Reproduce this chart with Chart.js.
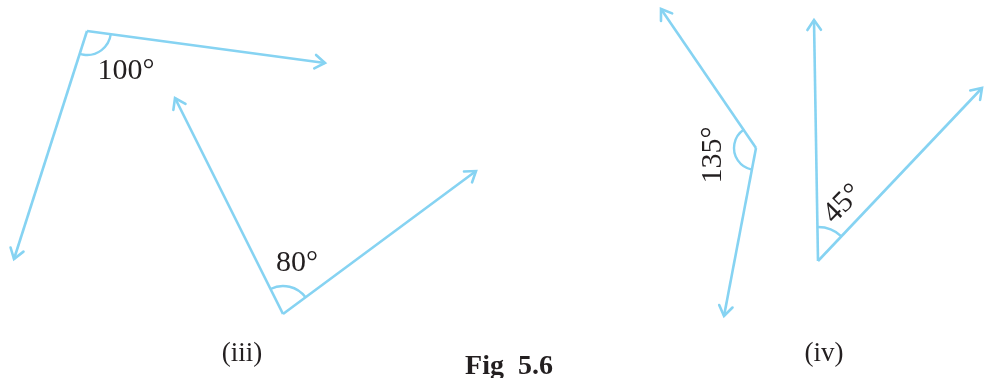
<!DOCTYPE html>
<html>
<head>
<meta charset="utf-8">
<script src="https://cdn.jsdelivr.net/npm/chart.js@4"></script>
<style>
  html, body { margin: 0; padding: 0; background: #fff; }
  canvas { display: block; }
</style>
</head>
<body>
<canvas id="fig" width="984" height="378"></canvas>
<script>
// angle vertices and ray end points (figure units, y grows downward)
var vertices = [[87, 31], [283, 314], [756, 148], [818, 261]];
var rayTipsA = [[325, 63], [175, 98], [661, 9], [814, 20]];
var rayTipsB = [[14, 259], [476, 171], [724, 316], [982, 88]];
var arcRadius = [24, 28, 22, 34];
var angleLabels = ['100°', '80°', '135°', '45°'];
var labelPos = [[126, 71], [297, 263], [713, 155], [843, 204]];
var labelRotation = [0, 0, -90, -45];
var partLabels = ['(iii)', '(iv)'];
var partPos = [[242, 354], [824, 354]];
var caption = 'Fig  5.6';

var blue = '#86d3f2';

var datasets = [];
vertices.forEach(function (v, i) {
    [rayTipsA[i], rayTipsB[i]].forEach(function (t) {
        datasets.push({
            data: [{x: v[0], y: v[1]}, {x: t[0], y: t[1]}],
            showLine: true,
            borderColor: blue,
            borderWidth: 2.6,
            pointRadius: 0,
            clip: false
        });
    });
});

// open arrow heads at the end of each ray
var arrowHeads = {
    id: 'arrowHeads',
    afterDatasetsDraw: function (chart) {
        var ctx = chart.ctx;
        ctx.save();
        ctx.strokeStyle = blue;
        ctx.lineWidth = 2.6;
        ctx.lineCap = 'round';
        chart.data.datasets.forEach(function (ds, i) {
            var pts = chart.getDatasetMeta(i).data;
            var a = pts[0], b = pts[1];
            var ang = Math.atan2(b.y - a.y, b.x - a.x);
            var len = 12, spread = 0.6;
            ctx.beginPath();
            ctx.moveTo(b.x - len * Math.cos(ang - spread), b.y - len * Math.sin(ang - spread));
            ctx.lineTo(b.x, b.y);
            ctx.lineTo(b.x - len * Math.cos(ang + spread), b.y - len * Math.sin(ang + spread));
            ctx.stroke();
        });
        ctx.restore();
    }
};

// angle arcs and all text
var angleMarks = {
    id: 'angleMarks',
    afterDraw: function (chart) {
        var ctx = chart.ctx;
        var sx = chart.scales.x, sy = chart.scales.y;
        ctx.save();
        ctx.strokeStyle = blue;
        ctx.lineWidth = 2.4;
        vertices.forEach(function (v, i) {
            var cx = sx.getPixelForValue(v[0]), cy = sy.getPixelForValue(v[1]);
            var a1 = Math.atan2(sy.getPixelForValue(rayTipsA[i][1]) - cy, sx.getPixelForValue(rayTipsA[i][0]) - cx);
            var a2 = Math.atan2(sy.getPixelForValue(rayTipsB[i][1]) - cy, sx.getPixelForValue(rayTipsB[i][0]) - cx);
            var d = a2 - a1;
            while (d > Math.PI) d -= 2 * Math.PI;
            while (d < -Math.PI) d += 2 * Math.PI;
            ctx.beginPath();
            ctx.arc(cx, cy, arcRadius[i], a1, a1 + d, d < 0);
            ctx.stroke();
        });

        ctx.fillStyle = '#231f20';
        ctx.textAlign = 'center';
        ctx.textBaseline = 'middle';
        ctx.font = '30px "Liberation Serif", "DejaVu Serif", serif';
        angleLabels.forEach(function (t, i) {
            ctx.save();
            ctx.translate(sx.getPixelForValue(labelPos[i][0]), sy.getPixelForValue(labelPos[i][1]));
            ctx.rotate(labelRotation[i] * Math.PI / 180);
            ctx.fillText(t, 0, 0);
            ctx.restore();
        });

        ctx.font = '27px "Liberation Serif", "DejaVu Serif", serif';
        partLabels.forEach(function (t, i) {
            ctx.fillText(t, sx.getPixelForValue(partPos[i][0]), sy.getPixelForValue(partPos[i][1]));
        });

        ctx.font = 'bold 28px "Liberation Serif", "DejaVu Serif", serif';
        ctx.textBaseline = 'alphabetic';
        ctx.fillText(caption, sx.getPixelForValue(509), sy.getPixelForValue(374));
        ctx.restore();
    }
};

new Chart(document.getElementById('fig').getContext('2d'), {
    type: 'scatter',
    data: { datasets: datasets },
    options: {
        responsive: false,
        animation: false,
        layout: { padding: 0 },
        plugins: { legend: { display: false }, tooltip: { enabled: false } },
        scales: {
            x: { type: 'linear', min: 0, max: 984, display: false },
            y: { type: 'linear', min: 0, max: 378, reverse: true, display: false }
        }
    },
    plugins: [arrowHeads, angleMarks]
});
</script>
</body>
</html>
